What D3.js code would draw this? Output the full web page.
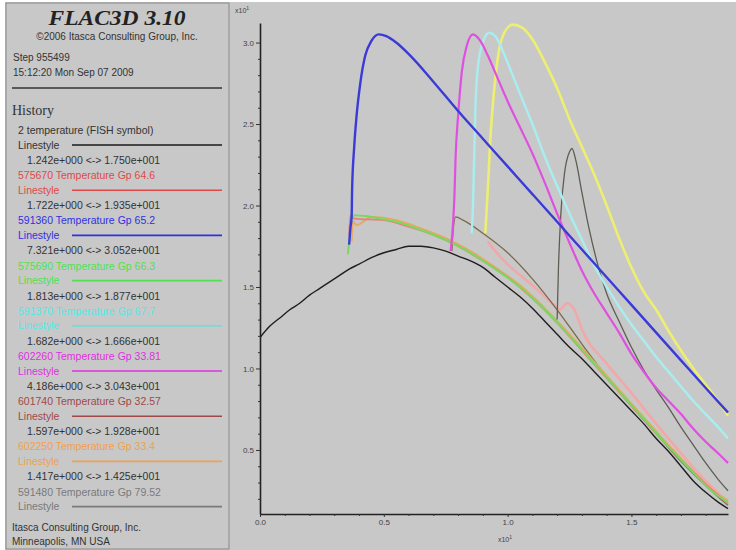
<!DOCTYPE html>
<html>
<head>
<meta charset="utf-8">
<script src="https://d3js.org/d3.v7.min.js"></script>
<style>
  body { margin: 0; background: #fff; }
  text { font-family: "Liberation Sans", Arial, sans-serif; }
</style>
</head>
<body>
<svg width="736" height="550"></svg>
<script>

// legend entries (history list)
const legendNames = [
  "2 temperature (FISH symbol)",
  "575670 Temperature Gp 64.6",
  "591360 Temperature Gp 65.2",
  "575690 Temperature Gp 66.3",
  "591370 Temperature Gp 67.7",
  "602260 Temperature Gp 33.81",
  "601740 Temperature Gp 32.57",
  "602250 Temperature Gp 33.4",
  "591480 Temperature Gp 79.52"
];
const legendColors = ["#1a1a1a", "#e04848", "#3030e0", "#50e050", "#50e8e8",
                      "#e030e0", "#a04848", "#f0a050", "#7a7a7a"];
const legendRanges = [
  "1.242e+000 <-> 1.750e+001",
  "1.722e+000 <-> 1.935e+001",
  "7.321e+000 <-> 3.052e+001",
  "1.813e+000 <-> 1.877e+001",
  "1.682e+000 <-> 1.666e+001",
  "4.186e+000 <-> 3.043e+001",
  "1.597e+000 <-> 1.928e+001",
  "1.417e+000 <-> 1.425e+001",
  ""
];

// axis ticks (x10^1)
const yTicks = [0.5, 1.0, 1.5, 2.0, 2.5, 3.0];
const xTicks = [0.0, 0.5, 1.0, 1.5];

// curves: [time, temperature] in x10^1
const blackCurve = [[0,1.19],[0.04,1.26],[0.08,1.31],[0.12,1.36],[0.16,1.40],[0.2,1.45],[0.24,1.49],
  [0.28,1.53],[0.32,1.57],[0.36,1.61],[0.4,1.64],[0.45,1.68],[0.5,1.71],[0.55,1.73],[0.6,1.75],
  [0.65,1.75],[0.7,1.74],[0.75,1.72],[0.8,1.69],[0.85,1.66],[0.9,1.62],[0.95,1.56],[1.0,1.50],
  [1.05,1.44],[1.1,1.37],[1.15,1.29],[1.2,1.21],[1.25,1.13],[1.3,1.06],[1.35,0.98],[1.4,0.90],
  [1.45,0.82],[1.5,0.74],[1.55,0.66],[1.6,0.57],[1.65,0.49],[1.7,0.40],[1.75,0.31],[1.8,0.24],
  [1.85,0.18],[1.89,0.14]];
const redCurve = [[0.36,1.82],[0.365,1.94],[0.38,1.92],[0.5,1.91],[0.6,1.87],[0.7,1.82],[0.8,1.75],
  [0.9,1.66],[1.0,1.56],[1.1,1.43],[1.2,1.28],[1.3,1.11],[1.4,0.94],[1.5,0.77],[1.6,0.60],
  [1.7,0.44],[1.8,0.29],[1.89,0.17]];
const blueCurve = [[0.36,1.76],[0.365,1.86],[0.37,1.93],[0.372,2.1],[0.38,2.35],[0.39,2.55],
  [0.405,2.75],[0.425,2.92],[0.45,3.01],[0.48,3.05],[0.51,3.04],[0.55,3.0],[0.6,2.93],[0.7,2.76],
  [0.8,2.58],[0.9,2.41],[1.0,2.24],[1.1,2.07],[1.2,1.90],[1.3,1.73],[1.4,1.56],[1.5,1.39],
  [1.6,1.22],[1.7,1.05],[1.8,0.88],[1.89,0.73]];
const greenCurve = [[0.355,1.70],[0.36,1.78],[0.37,1.92],[0.38,1.94],[0.45,1.93],[0.55,1.90],
  [0.65,1.85],[0.75,1.79],[0.85,1.71],[0.95,1.61],[1.05,1.50],[1.15,1.36],[1.25,1.20],[1.35,1.03],
  [1.45,0.86],[1.55,0.69],[1.65,0.52],[1.75,0.36],[1.83,0.24],[1.89,0.18]];
const cyanCurve = [[0.855,1.83],[0.86,2.0],[0.865,2.3],[0.87,2.6],[0.88,2.85],[0.9,3.0],[0.925,3.06],
  [0.95,3.04],[0.98,2.95],[1.02,2.80],[1.06,2.65],[1.1,2.50],[1.15,2.30],[1.2,2.12],[1.25,1.95],
  [1.3,1.79],[1.35,1.63],[1.4,1.50],[1.45,1.38],[1.5,1.27],[1.55,1.17],[1.6,1.07],[1.65,0.98],
  [1.7,0.89],[1.75,0.80],[1.8,0.72],[1.85,0.64],[1.89,0.57]];
const magentaCurve = [[0.77,1.72],[0.78,1.9],[0.785,2.05],[0.79,2.3],[0.8,2.55],[0.815,2.82],
  [0.835,2.98],[0.86,3.05],[0.89,3.01],[0.92,2.92],[0.96,2.78],[1.0,2.64],[1.05,2.48],[1.1,2.32],
  [1.15,2.14],[1.2,1.95],[1.25,1.77],[1.3,1.60],[1.35,1.46],[1.4,1.34],[1.45,1.22],[1.5,1.09],
  [1.55,0.98],[1.6,0.88],[1.65,0.80],[1.7,0.72],[1.75,0.63],[1.8,0.55],[1.85,0.48],[1.89,0.42]];
const brownCurve = [[0.775,1.72],[0.78,1.85],[0.79,1.93],[0.82,1.91],[0.9,1.83],[1.0,1.71],
  [1.1,1.55],[1.2,1.36],[1.3,1.15],[1.4,0.95],[1.5,0.77],[1.6,0.60],[1.7,0.43],[1.8,0.28],[1.89,0.16]];
const orangeCurve = [[0.37,1.78],[0.375,1.90],[0.39,1.88],[0.45,1.93],[0.55,1.91],[0.65,1.86],
  [0.75,1.80],[0.85,1.72],[0.95,1.62],[1.05,1.51],[1.15,1.37],[1.25,1.21],[1.35,1.04],[1.45,0.87],
  [1.55,0.70],[1.65,0.53],[1.75,0.37],[1.83,0.25],[1.89,0.19]];
const grayCurve = [[1.2,1.30],[1.205,1.6],[1.215,1.95],[1.23,2.2],[1.25,2.33],[1.26,2.35],
  [1.275,2.28],[1.3,2.08],[1.33,1.85],[1.36,1.66],[1.4,1.46],[1.45,1.29],[1.5,1.13],[1.55,0.99],
  [1.6,0.87],[1.65,0.76],[1.7,0.64],[1.75,0.53],[1.8,0.42],[1.85,0.32],[1.89,0.25]];
const yellowCurve = [[0.91,1.83],[0.92,2.1],[0.93,2.4],[0.945,2.7],[0.965,2.95],[0.99,3.07],
  [1.02,3.11],[1.06,3.09],[1.1,3.02],[1.15,2.88],[1.2,2.72],[1.25,2.53],[1.3,2.36],[1.35,2.19],
  [1.4,2.0],[1.45,1.80],[1.5,1.62],[1.55,1.47],[1.6,1.36],[1.65,1.23],[1.7,1.11],[1.75,1.00],
  [1.8,0.90],[1.85,0.80],[1.89,0.71]];
const pinkCurve = [[0.92,1.78],[0.95,1.72],[1.0,1.64],[1.1,1.51],[1.18,1.40],[1.21,1.36],[1.24,1.40],
  [1.27,1.36],[1.3,1.24],[1.4,1.03],[1.5,0.85],[1.6,0.66],[1.7,0.48],[1.8,0.31],[1.89,0.18]];

var svg = d3.select("svg");

// panels
svg.append("rect").attr("x", 5).attr("y", 2).attr("width", 731).attr("height", 548).attr("fill", "#c8c8c8");
svg.append("rect").attr("x", 6).attr("y", 3).attr("width", 223).attr("height", 546)
  .attr("fill", "none").attr("stroke", "#8a8a8a");

// ---- left panel text ----
svg.append("text").attr("x", 117).attr("y", 25).attr("text-anchor", "middle")
  .style("font-family", "'Liberation Serif', 'Times New Roman', serif")
  .style("font-weight", "bold").style("font-style", "italic").style("font-size", "21px")
  .attr("fill", "#222").attr("textLength", 137).attr("lengthAdjust", "spacingAndGlyphs")
  .text("FLAC3D 3.10");
svg.append("text").attr("x", 117).attr("y", 40).attr("text-anchor", "middle")
  .style("font-size", "10px").attr("fill", "#333").text("\u00a92006 Itasca Consulting Group, Inc.");
svg.append("text").attr("x", 13).attr("y", 61).style("font-size", "10px").attr("fill", "#333").text("Step 955499");
svg.append("text").attr("x", 13).attr("y", 76).style("font-size", "10px").attr("fill", "#333").text("15:12:20 Mon Sep 07 2009");
svg.append("line").attr("x1", 12).attr("x2", 222).attr("y1", 88).attr("y2", 88)
  .attr("stroke", "#333").attr("stroke-width", 1.5);
svg.append("text").attr("x", 12).attr("y", 115)
  .style("font-family", "'Liberation Serif', 'Times New Roman', serif").style("font-size", "14px")
  .attr("fill", "#333").text("History");

var leg = svg.append("g");
legendNames.forEach(function(name, i) {
  var ly = 145 + i * 45.2;
  leg.append("text").attr("x", 18).attr("y", ly - 11).style("font-size", "10.5px")
    .attr("fill", i == 0 ? "#333" : legendColors[i]).text(name);
  leg.append("text").attr("x", 18).attr("y", ly + 3.5).style("font-size", "10.5px")
    .attr("fill", i == 0 ? "#333" : legendColors[i]).text("Linestyle");
  leg.append("line").attr("x1", 72).attr("x2", 222).attr("y1", ly).attr("y2", ly)
    .attr("stroke", legendColors[i]).attr("stroke-width", 1.6);
  if (legendRanges[i] != "") {
    leg.append("text").attr("x", 27).attr("y", ly + 19).style("font-size", "10.5px")
      .attr("fill", "#333").text(legendRanges[i]);
  }
});
svg.append("text").attr("x", 12).attr("y", 531).style("font-size", "10px").attr("fill", "#333").text("Itasca Consulting Group, Inc.");
svg.append("text").attr("x", 12).attr("y", 545).style("font-size", "10px").attr("fill", "#333").text("Minneapolis, MN USA");

// ---- plot ----
var x = d3.scaleLinear().domain([0, 1.89]).range([260, 728]);
var y = d3.scaleLinear().domain([0.107, 3.12]).range([514, 23]);

svg.append("clipPath").attr("id", "clip").append("rect")
  .attr("x", 260).attr("y", 15).attr("width", 476).attr("height", 500);

var plotSeries = [
  { pts: blackCurve,   color: "#1e1e1e", w: 1.4 },
  { pts: pinkCurve,    color: "#f2a8a8", w: 2.6 },
  { pts: brownCurve,   color: "#7a6a4a", w: 1.3 },
  { pts: orangeCurve,  color: "#eaa860", w: 2 },
  { pts: redCurve,     color: "#e88080", w: 1.8 },
  { pts: greenCurve,   color: "#78d860", w: 2 },
  { pts: grayCurve,    color: "#5e5e56", w: 1.3 },
  { pts: yellowCurve,  color: "#eeee70", w: 2.6 },
  { pts: cyanCurve,    color: "#a8eef0", w: 2.4 },
  { pts: magentaCurve, color: "#e050e0", w: 2.2 },
  { pts: blueCurve,    color: "#3a3ad8", w: 2.4 }
];

var lines = svg.append("g").attr("clip-path", "url(#clip)");
plotSeries.forEach(function(s) {
  var line = d3.line()
    .x(function(d) { return x(d[0]); })
    .y(function(d) { return y(d[1]); })
    .curve(d3.curveMonotoneX);
  lines.append("path").datum(s.pts)
    .attr("d", line)
    .attr("fill", "none")
    .attr("stroke", s.color)
    .attr("stroke-width", s.w)
    .attr("stroke-linejoin", "round");
});

// axes
var fmt = d3.format(".1f");
var yMinor = d3.range(2, 31).map(function(v) { return v / 10; }).filter(function(v) { return Math.round(v * 10) % 5 != 0; });
var xMinor = d3.range(1, 19).map(function(v) { return v / 10; }).filter(function(v) { return Math.round(v * 10) % 5 != 0; });

svg.append("g").attr("transform", "translate(260,0)")
  .call(d3.axisLeft(y).tickValues(yTicks).tickFormat(fmt).tickSize(4).tickSizeOuter(0).tickPadding(2));
svg.append("g").attr("transform", "translate(260,0)")
  .call(d3.axisLeft(y).tickValues(yMinor).tickFormat("").tickSize(2).tickSizeOuter(0))
  .select(".domain").remove();

svg.append("g").attr("transform", "translate(0,514)")
  .call(d3.axisBottom(x).tickValues(xTicks).tickFormat(fmt).tickSize(3).tickSizeOuter(0).tickPadding(2));
svg.append("g").attr("transform", "translate(0,514)")
  .call(d3.axisBottom(x).tickValues(xMinor).tickFormat("").tickSize(2).tickSizeOuter(0))
  .select(".domain").remove();

svg.selectAll(".domain").attr("stroke", "#222").attr("stroke-width", 1.6);
svg.selectAll(".tick line").attr("stroke", "#333");
svg.selectAll(".tick text").style("font-size", "8px").attr("fill", "#444")
  .style("font-family", "'Liberation Sans', Arial, sans-serif");

// exponent labels
var yl = svg.append("text").attr("x", 235).attr("y", 13).style("font-size", "7px").attr("fill", "#444").text("x10");
yl.append("tspan").attr("dy", -3).style("font-size", "5px").text("1");
var xl = svg.append("text").attr("x", 505).attr("y", 542).attr("text-anchor", "middle")
  .style("font-size", "7px").attr("fill", "#444").text("x10");
xl.append("tspan").attr("dy", -3).style("font-size", "5px").text("1");

</script>
</body>
</html>
